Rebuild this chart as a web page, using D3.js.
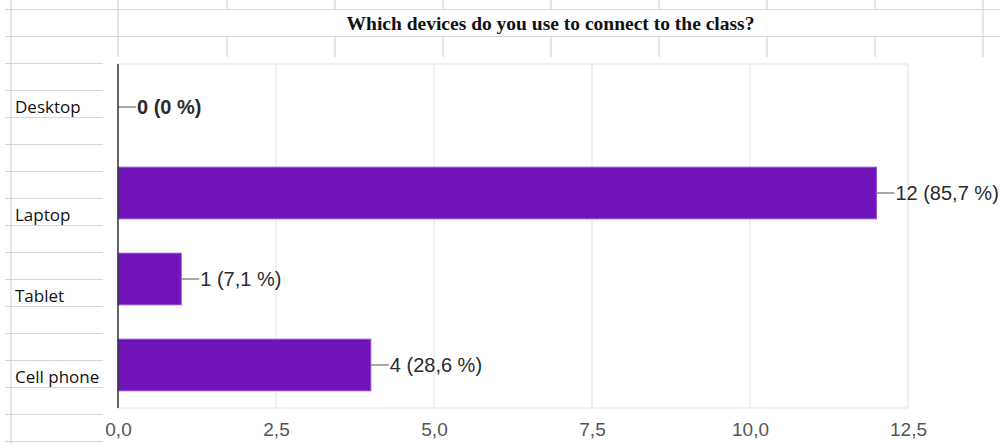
<!DOCTYPE html>
<html>
<head>
<meta charset="utf-8">
<script src="https://cdn.jsdelivr.net/npm/d3@7"></script>
<style>
  html, body { margin: 0; padding: 0; background: #fff; }
  svg { display: block; }
</style>
</head>
<body>
<div id="chart"></div>
<script>
// data
const categories = ['Desktop', 'Laptop', 'Tablet', 'Cell phone'];
const counts = [0, 12, 1, 4];
const percents = [0, 85.7, 7.1, 28.6];
const xTicks = [0, 2.5, 5, 7.5, 10, 12.5];
const title = 'Which devices do you use to connect to the class?';

// layout
const W = 1000, H = 444;
const rowH = 27, rowTop = 9.5;
const colX = [118, 227, 335, 443, 551, 659, 767, 875, 983];
const labelRows = [4, 8, 11, 14];   // spreadsheet row line each category sits on
const plot = { left: 118, right: 908, top: 64, bottom: 408 };

const comma = v => d3.format('.1f')(v).replace('.', ',');
const pct = v => (v === 0 ? '0' : comma(v)) + ' %';

const svg = d3.select('#chart').append('svg')
    .attr('width', W)
    .attr('height', H);

// spreadsheet grid behind the chart
const grid = svg.append('g')
    .attr('stroke', '#d6d6d6')
    .attr('stroke-width', 1.2);

d3.range(0, 17).forEach(i => {
    let y = rowTop + i * rowH;
    let x2 = y < 57 ? W : 103;
    grid.append('line')
        .attr('x1', 5).attr('x2', x2)
        .attr('y1', y).attr('y2', y);
});
grid.append('line')
    .attr('x1', 11).attr('x2', 11)
    .attr('y1', 0).attr('y2', H);

colX.forEach((x, i) => {
    let full = i === 0 || i === colX.length - 1;
    if (full) {
        grid.append('line').attr('x1', x).attr('x2', x).attr('y1', 0).attr('y2', 57);
    } else {
        grid.append('line').attr('x1', x).attr('x2', x).attr('y1', 0).attr('y2', rowTop);
        grid.append('line').attr('x1', x).attr('x2', x).attr('y1', rowTop + rowH).attr('y2', 57);
    }
});

// title in the merged cell
svg.append('text')
    .attr('x', (colX[0] + colX[colX.length - 1]) / 2)
    .attr('y', 30)
    .attr('text-anchor', 'middle')
    .attr('font-family', '"Liberation Serif", "Times New Roman", serif')
    .attr('font-weight', 'bold')
    .attr('font-size', 19.5)
    .attr('fill', '#111')
    .text(title);

// category labels sit in the spreadsheet cells
svg.append('g').selectAll('text')
    .data(categories)
    .enter()
    .append('text')
    .attr('x', 15)
    .attr('y', (d, i) => rowTop + labelRows[i] * rowH - 4.5)
    .attr('font-family', '"Open Sans", "Noto Sans", sans-serif')
    .attr('font-size', 17)
    .attr('fill', '#111')
    .text(d => d);

// chart object background
svg.append('rect')
    .attr('x', 104).attr('y', 58)
    .attr('width', W - 104).attr('height', H - 58)
    .attr('fill', '#fff');

const x = d3.scaleLinear()
    .domain([0, 12.5])
    .range([plot.left, plot.right]);

const y = d3.scaleBand()
    .domain(categories)
    .range([plot.top, plot.bottom])
    .paddingInner(0.4)
    .paddingOuter(0.2);

const g = svg.append('g');

// plot border + vertical gridlines
g.append('rect')
    .attr('x', plot.left).attr('y', plot.top)
    .attr('width', plot.right - plot.left)
    .attr('height', plot.bottom - plot.top)
    .attr('fill', 'none')
    .attr('stroke', '#ececec')
    .attr('stroke-width', 1.5);

g.selectAll('.gridline')
    .data(xTicks.slice(1))
    .enter()
    .append('line')
    .attr('class', 'gridline')
    .attr('x1', d => x(d)).attr('x2', d => x(d))
    .attr('y1', plot.top).attr('y2', plot.bottom)
    .attr('stroke', '#ececec')
    .attr('stroke-width', 1.5);

// bars
g.selectAll('.bar')
    .data(categories)
    .enter()
    .append('rect')
    .attr('class', 'bar')
    .attr('x', x(0))
    .attr('y', d => y(d))
    .attr('width', (d, i) => x(counts[i]) - x(0))
    .attr('height', y.bandwidth())
    .attr('fill', '#7013b8')
    .attr('stroke', '#8d4bd1')
    .attr('stroke-width', (d, i) => counts[i] > 0 ? 1 : 0);

// value labels with leader lines
const lbl = g.selectAll('.lbl')
    .data(categories)
    .enter()
    .append('g')
    .attr('class', 'lbl')
    .attr('transform', (d, i) => `translate(${x(counts[i])},${y(d) + y.bandwidth() / 2})`);

lbl.append('line')
    .attr('x1', 0).attr('x2', 18)
    .attr('stroke', '#777')
    .attr('stroke-width', 1.3);

lbl.append('text')
    .attr('x', 19)
    .attr('dy', '0.36em')
    .attr('font-family', '"Liberation Sans", Arial, sans-serif')
    .attr('font-size', 20)
    .attr('font-weight', (d, i) => counts[i] === 0 ? 'bold' : 'normal')
    .attr('fill', '#2b2b2b')
    .text((d, i) => `${counts[i]} (${pct(percents[i])})`);

// axis line
g.append('line')
    .attr('x1', plot.left).attr('x2', plot.left)
    .attr('y1', plot.top).attr('y2', plot.bottom)
    .attr('stroke', '#333')
    .attr('stroke-width', 1.5);

// x tick labels
const xAxis = d3.axisBottom(x)
    .tickValues(xTicks)
    .tickFormat(comma)
    .tickSize(0)
    .tickPadding(15);

const ax = g.append('g')
    .attr('transform', `translate(0,${plot.bottom})`)
    .call(xAxis);
ax.select('.domain').remove();
ax.selectAll('text')
    .attr('font-family', '"Liberation Sans", Arial, sans-serif')
    .attr('font-size', 19)
    .attr('fill', '#555');
</script>
</body>
</html>
